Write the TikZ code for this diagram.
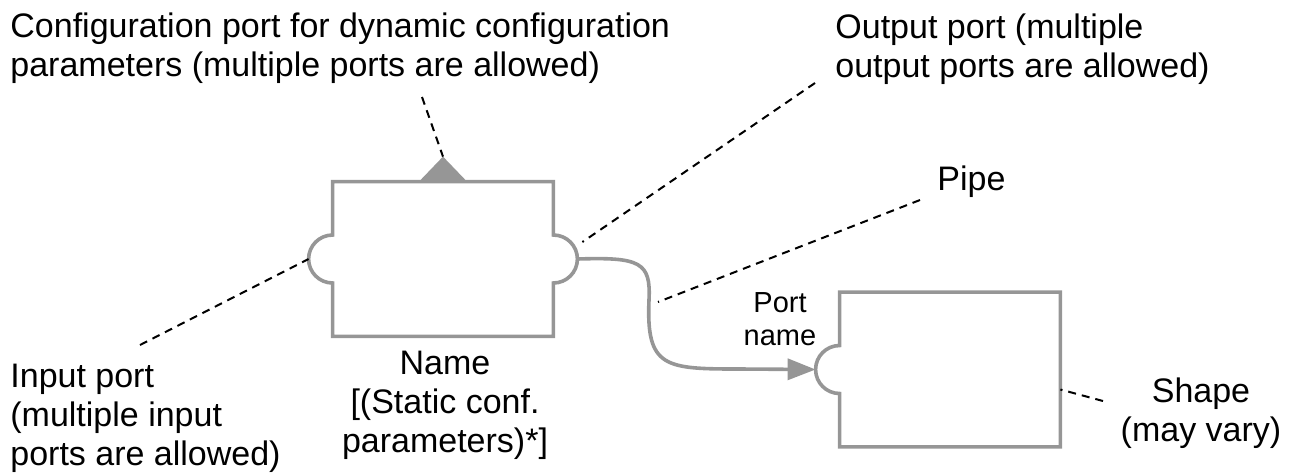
\documentclass[tikz,border=0pt]{standalone}
\usepackage{fontspec}
\setmainfont{Liberation Sans}
\usetikzlibrary{positioning,arrows.meta}
\definecolor{wiregray}{RGB}{150,150,150}

\begin{document}
\begin{tikzpicture}[x=0.5pt, y=-0.5pt, block/.style={minimum width=110pt, minimum height=77pt, inner sep=0pt}, outline/.style={draw=wiregray, line width=1.8pt}, pipe/.style={wiregray, line width=1.8pt, -{Triangle[length=14pt, width=10.5pt]}}, hint/.style={black, dash pattern=on 4pt off 3pt, line width=1pt}, note/.style={font=\fontsize{17}{19.5}\selectfont, inner sep=0pt, align=left}, small/.style={font=\fontsize{14.5}{16.5}\selectfont, inner sep=0pt, align=center}]
	\useasboundingbox (0,0) rectangle (1296,473);

	\node[block] (A) at (443,259) {};
	\node[block] (B) at (950,369.5) {};
	\coordinate (O) at ([xshift=12pt]A.east);
	\coordinate (I) at ([xshift=-12pt]B.west);

	\draw[outline] (A.north west) -- (A.north east) -- ([yshift=12pt]A.east) arc[start angle=90, end angle=-90, radius=12pt] -- (A.south east) -- (A.south west) -- ([yshift=-12pt]A.west) arc[start angle=-90, end angle=-270, radius=12pt] -- cycle;
	\fill[wiregray] ([xshift=-12pt]A.north) -- ([yshift=12.5pt]A.north) -- ([xshift=12pt]A.north) -- cycle;
	\draw[outline] (B.north west) -- (B.north east) -- (B.south east) -- (B.south west) -- ([yshift=-12pt]B.west) arc[start angle=-90, end angle=-270, radius=12pt] -- cycle;

	\draw[pipe] (O) .. controls (640,257) and (651,262) .. (649,300) .. controls (646,368) and (665,369) .. (740,369) -- (I);

	\node[note, anchor=base west] (C) at (10,76) {Configuration port for dynamic configuration\\parameters (multiple ports are allowed)};
	\node[note, anchor=base west] (D) at (835,77) {Output port (multiple\\output ports are allowed)};
	\node[note, anchor=base west] (E) at (937,190) {Pipe};
	\node[note, anchor=base west] (F) at (10,465) {Input port\\(multiple input\\ports are allowed)};
	\node[note, anchor=base, align=center] (G) at (445,452) {Name\\{[}(Static conf.\\parameters)*]};
	\node[small, anchor=base] (H) at (780,345) {Port\\name};
	\node[note, anchor=base, align=center] (K) at (1201,441) {Shape\\(may vary)};

	\coordinate (c) at (422,97);
	\coordinate (d) at (815,83);
	\coordinate (e) at (920,200);
	\coordinate (e0) at (658,302);
	\coordinate (f) at (140,345);
	\coordinate (k) at (1103,401);

	\draw[hint] (c) -- ([yshift=12.5pt]A.north);
	\draw[hint] (d) -- ([shift={(2.5pt,8.5pt)}]O);
	\draw[hint] (e) -- (e0);
	\draw[hint] (f) -- ([xshift=-12pt]A.west);
	\draw[hint] (k) -- ([yshift=-10pt]B.east);
\end{tikzpicture}
\end{document}
